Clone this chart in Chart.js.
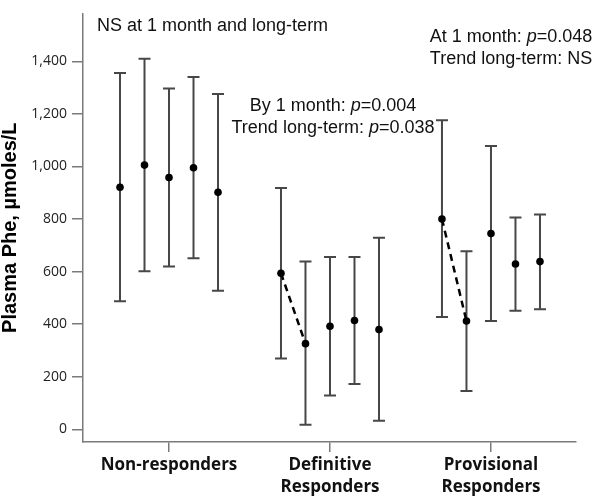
<!DOCTYPE html>
<html>
<head>
<meta charset="utf-8">
<script src="https://cdn.jsdelivr.net/npm/chart.js@4/dist/chart.umd.min.js"></script>
<style>
  html, body { margin: 0; background: #fff; }
  #wrap { width: 600px; height: 497px; position: relative; }
</style>
</head>
<body>
<div id="wrap"><canvas id="chart"></canvas></div>
<script>
// ─── Data ───────────────────────────────────────────────────────────────
const groupLabels = [["Non-responders"], ["Definitive", "Responders"], ["Provisional", "Responders"]];
const yTicks = [0, 200, 400, 600, 800, 1000, 1200, 1400];

const nonRespMean = [921, 1005, 958, 995, 902];
const nonRespLow  = [487, 601, 619, 651, 527];
const nonRespHigh = [1355, 1410, 1296, 1340, 1275];

const defRespMean = [594, 326, 392, 414, 380];
const defRespLow  = [270, 18, 129, 173, 33];
const defRespHigh = [918, 638, 656, 656, 729];

const provRespMean = [800, 412, 745, 629, 638];
const provRespLow  = [427, 146, 412, 451, 457];
const provRespHigh = [1176, 677, 1078, 806, 817];

// ─── Layout helpers ─────────────────────────────────────────────────────
const GAP = 6.57;           // distance between group centres, in time-point units
const AXIS = "#7a7a7a";
const BAR = "#474747";

function groupPoints(g, mean, low, high) {
  return mean.map((m, j) => ({ x: g * GAP + (j - 2), y: m, lo: low[j], hi: high[j] }));
}

const series = [
  groupPoints(0, nonRespMean, nonRespLow, nonRespHigh),
  groupPoints(1, defRespMean, defRespLow, defRespHigh),
  groupPoints(2, provRespMean, provRespLow, provRespHigh),
];

// ─── Error bars ─────────────────────────────────────────────────────────
const errorBars = {
  id: "errorBars",
  beforeDatasetsDraw(chart) {
    const { ctx, scales: { x, y } } = chart;
    ctx.save();
    ctx.strokeStyle = BAR;
    ctx.lineWidth = 2;
    chart.data.datasets.forEach((ds) => {
      if (!ds.isMeans) return;
      ds.data.forEach((p) => {
        const px = x.getPixelForValue(p.x);
        const top = y.getPixelForValue(p.hi);
        const bot = y.getPixelForValue(p.lo);
        ctx.beginPath();
        ctx.moveTo(px, top); ctx.lineTo(px, bot);
        ctx.moveTo(px - 6, top); ctx.lineTo(px + 6, top);
        ctx.moveTo(px - 6, bot); ctx.lineTo(px + 6, bot);
        ctx.stroke();
      });
    });
    ctx.restore();
  },
};

// ─── Annotations (p in italics) ─────────────────────────────────────────
const notes = [
  { parts: [["NS at 1 month and long-term", false]], x: 97, y: 31, align: "left" },
  { parts: [["At 1 month: ", false], ["p", true], ["=0.048", false]], x: 511, y: 42, align: "center" },
  { parts: [["Trend long-term: NS", false]], x: 511, y: 64, align: "center" },
  { parts: [["By 1 month: ", false], ["p", true], ["=0.004", false]], x: 333, y: 111, align: "center" },
  { parts: [["Trend long-term: ", false], ["p", true], ["=0.038", false]], x: 333, y: 133, align: "center" },
];

const annotations = {
  id: "annotations",
  afterDraw(chart) {
    const ctx = chart.ctx;
    ctx.save();
    ctx.fillStyle = "#111";
    ctx.textBaseline = "alphabetic";
    ctx.textAlign = "left";
    const font = (it) => `${it ? "italic " : ""}18px "Liberation Sans", Arial, sans-serif`;
    notes.forEach((n) => {
      let w = 0;
      n.parts.forEach(([t, it]) => { ctx.font = font(it); w += ctx.measureText(t).width; });
      let cx = n.align === "center" ? n.x - w / 2 : n.x;
      n.parts.forEach(([t, it]) => {
        ctx.font = font(it);
        ctx.fillText(t, cx, n.y);
        cx += ctx.measureText(t).width;
      });
    });
    ctx.restore();
  },
};

// ─── Chart ──────────────────────────────────────────────────────────────
new Chart(document.getElementById("chart"), {
  type: "scatter",
  data: {
    datasets: [
      ...series.map((pts) => ({
        isMeans: true,
        data: pts,
        pointRadius: 3.8,
        pointBackgroundColor: "#000",
        pointBorderWidth: 0,
        showLine: false,
      })),
      ...[1, 2].map((g) => ({
        type: "line",
        data: series[g].slice(0, 2),
        borderColor: "#000",
        borderWidth: 2.5,
        borderDash: [7, 5],
        pointRadius: 0,
        fill: false,
      })),
    ],
  },
  options: {
    responsive: true,
    maintainAspectRatio: false,
    animation: false,
    events: [],
    layout: { padding: { top: 0, right: 24, bottom: 0, left: 0 } },
    plugins: { legend: { display: false }, tooltip: { enabled: false } },
    scales: {
      x: {
        type: "linear",
        min: -3.51,
        max: 2 * GAP + 3.47,
        afterBuildTicks: (s) => { s.ticks = groupLabels.map((_, i) => ({ value: i * GAP })); },
        afterFit: (s) => { s.height = 55; },
        ticks: {
          autoSkip: false,
          maxRotation: 0,
          padding: 3,
          color: "#111",
          font: { family: '"Open Sans", sans-serif', size: 17, weight: "bold", lineHeight: 1.25 },
          callback: (v) => groupLabels[Math.round(v / GAP)],
        },
        grid: { drawOnChartArea: false, tickLength: 10, color: AXIS, lineWidth: 1.5 },
        border: { color: AXIS, width: 1.5 },
      },
      y: {
        min: -48,
        max: 1582,
        afterBuildTicks: (s) => { s.ticks = yTicks.map((v) => ({ value: v })); },
        afterFit: (s) => { s.width = 83; },
        ticks: {
          padding: 5,
          color: "#222",
          font: { family: '"Open Sans", sans-serif', size: 14 },
          callback: (v) => v.toLocaleString("en-US"),
        },
        grid: { drawOnChartArea: false, tickLength: 11, color: AXIS, lineWidth: 1.5 },
        border: { color: AXIS, width: 1.5 },
        title: {
          display: true,
          text: "Plasma Phe, µmoles/L",
          color: "#000",
          padding: 0,
          font: { family: '"Liberation Sans", Arial, sans-serif', size: 20, weight: "bold", lineHeight: 1 },
        },
      },
    },
  },
  plugins: [errorBars, annotations],
});
</script>
</body>
</html>
